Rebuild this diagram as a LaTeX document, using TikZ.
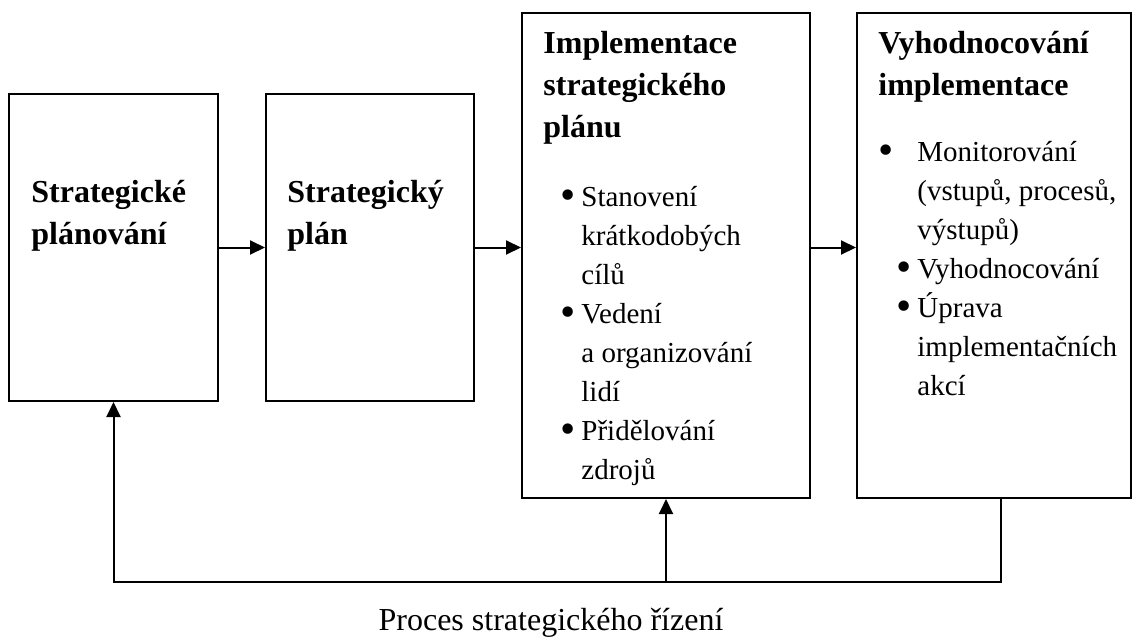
\documentclass[tikz,border=0pt]{standalone}
\usepackage{fontspec}
\setmainfont{Liberation Serif}
\usetikzlibrary{arrows.meta,positioning}

\newcommand{\bigdot}{\hspace*{-1.5pt}\smash{\raisebox{-1.5pt}{\scalebox{1.5}{\textbullet}}}}
\newcommand{\bul}{\makebox[9pt][l]{\bigdot}}
\newcommand{\ind}{\hspace*{9pt}}
\newcommand{\bigbul}{\makebox[18pt][l]{\bigdot}}
\newcommand{\bigind}{\hspace*{18pt}}

\begin{document}
\begin{tikzpicture}[x=0.5pt,y=-0.5pt,
  box/.style={draw,line width=1pt,inner sep=0pt},
  head/.style={anchor=base west,inner sep=0pt,font=\fontsize{16}{21}\selectfont\bfseries},
  body/.style={anchor=base west,inner sep=0pt,font=\fontsize{14.5}{19.5}\selectfont},
  arr/.style={line width=1pt,-{Triangle[length=7.5pt,width=7pt]}}]

  \useasboundingbox (0,0) rectangle (1133,637);

  % the four stages
  \node[box,minimum width=104.5pt,minimum height=153.5pt] (splan) at (113.5,247.5) {};
  \node[box,minimum width=104pt,minimum height=153.5pt] (plan) at (370,247.5) {};
  \node[box,minimum width=144pt,minimum height=242.5pt] (impl) at (666,255.5) {};
  \node[box,minimum width=137pt,minimum height=242.5pt] (eval) at (994,255.5) {};

  \node[head] (splant) at (31,202) {\begin{tabular}[t]{@{}l@{}}Strategické\\plánování\end{tabular}};
  \node[head] (plant) at (287,202) {\begin{tabular}[t]{@{}l@{}}Strategický\\plán\end{tabular}};
  \node[head] (implt) at (543,53) {\begin{tabular}[t]{@{}l@{}}Implementace\\strategického\\plánu\end{tabular}};
  \node[head] (evalt) at (878,53) {\begin{tabular}[t]{@{}l@{}}Vyhodnocování\\implementace\end{tabular}};

  \node[body] (implb) at (563,206) {\begin{tabular}[t]{@{}l@{}}
    \bul Stanovení\\ \ind krátkodobých\\ \ind cílů\\
    \bul Vedení\\ \ind a organizování\\ \ind lidí\\
    \bul Přidělování\\ \ind zdrojů\end{tabular}};
  \node[body] (evalb) at (881,161) {\begin{tabular}[t]{@{}l@{}}
    \bigbul Monitorování\\ \bigind (vstupů, procesů,\\ \bigind výstupů)\\
    \ind\bul Vyhodnocování\\
    \ind\bul Úprava\\ \bigind implementačních\\ \bigind akcí\end{tabular}};

  % flow
  \draw[arr] (splan) -- (plan);
  \draw[arr] (plan.east) -- (plan.east -| impl.west);
  \draw[arr] (impl.east |- plan.east) -- (plan.east -| eval.west);

  % feedback
  \coordinate (fb) at (113.5,582);
  \draw[arr] ([xshift=3.5pt]eval.south) |- (fb) -- (splan.south);
  \draw[arr] (fb -| impl.south) -- (impl.south);

  \node[anchor=base,font=\fontsize{16}{19}\selectfont] (title) at (551,630) {Proces strategického řízení};
\end{tikzpicture}
\end{document}
